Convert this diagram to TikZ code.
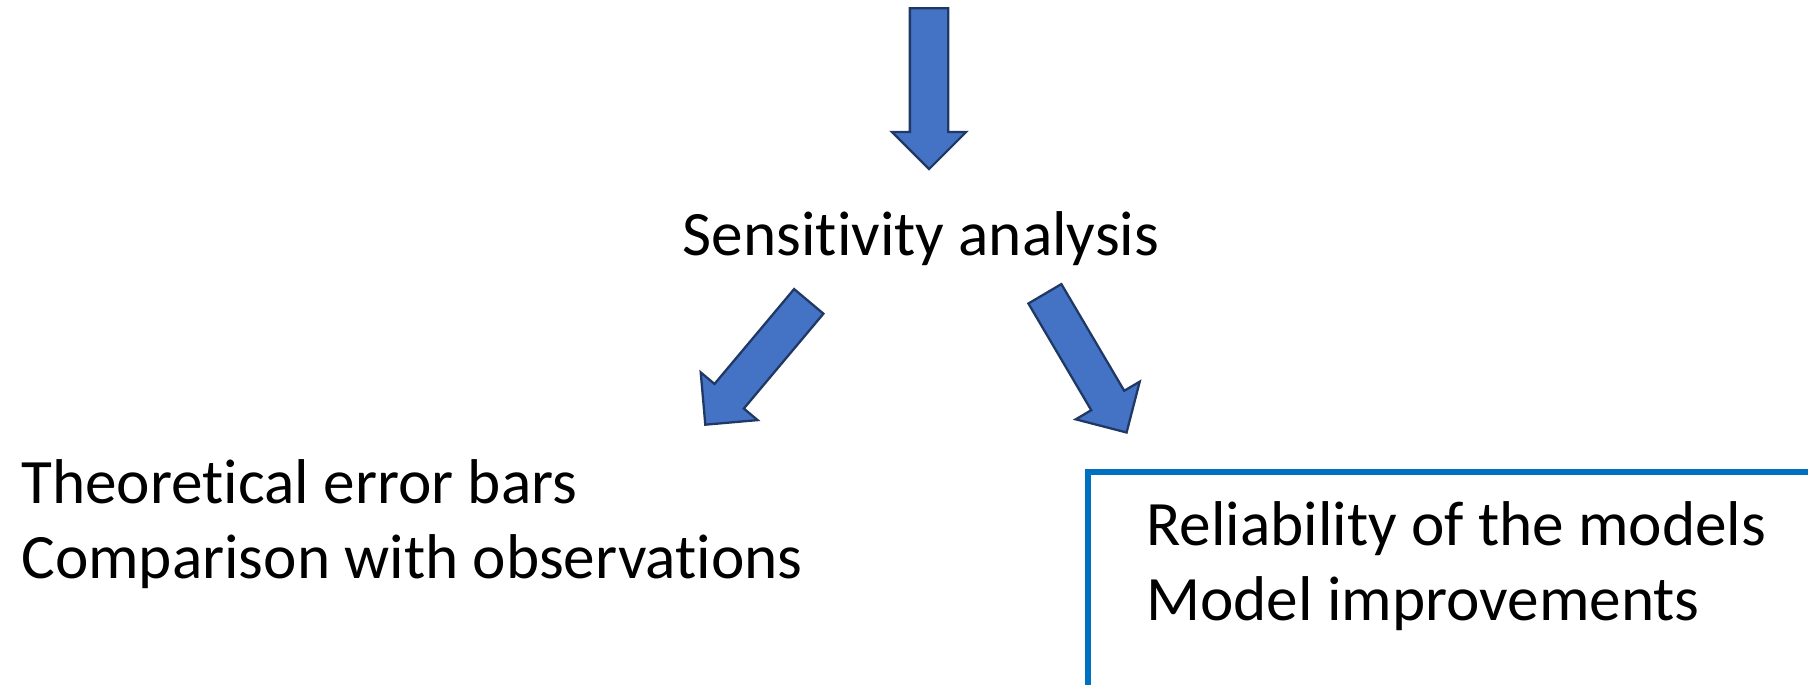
\documentclass[tikz,border=0pt]{standalone}
\usepackage{fontspec}
\setmainfont{Carlito}[Ligatures=NoCommon]
\definecolor{arrowblue}{RGB}{68, 114, 196}
\definecolor{arrowedge}{RGB}{32, 56, 100}
\definecolor{frameblue}{RGB}{0, 112, 192}
\usepackage{tikz}
\usetikzlibrary{positioning,shapes.arrows,calc}

\begin{document}
\begin{tikzpicture}[x=0.02cm,y=-0.02cm,
    flowarrow/.style={single arrow,draw=arrowedge,fill=arrowblue,line width=1.3pt,minimum height=3.22cm,minimum width=0pt,inner sep=0pt,inner ysep=0.36cm,single arrow head extend=0.36cm,anchor=tail},
    bigtext/.style={font=\fontsize{36}{42.5}\selectfont,align=left,inner sep=0pt,anchor=base west}
]
    \useasboundingbox (0,0) rectangle (1808,684);
    \clip (0,0) rectangle (1808,684);

    \node[flowarrow,rotate=-90] (down) at (929,7) {};
    \node[bigtext,anchor=base] (sens) at (921,255) {Sensitivity analysis};
    \node[flowarrow,rotate=230] (left) at (809.5,300.5) {};
    \node[flowarrow,rotate=-59.5] (right) at (1044.3,292.8) {};

    % base anchor sits on the last line
    \node[bigtext] (theory) at (21,578) {Theoretical error bars\\Comparison with observations};

    \node[draw=frameblue,line width=3.2pt,anchor=north west,minimum width=16cm,minimum height=6cm] (modelbox) at (1085,469) {};
    \node[bigtext] (models) at (1146,620) {Reliability of the models\\Model improvements};
\end{tikzpicture}
\end{document}
